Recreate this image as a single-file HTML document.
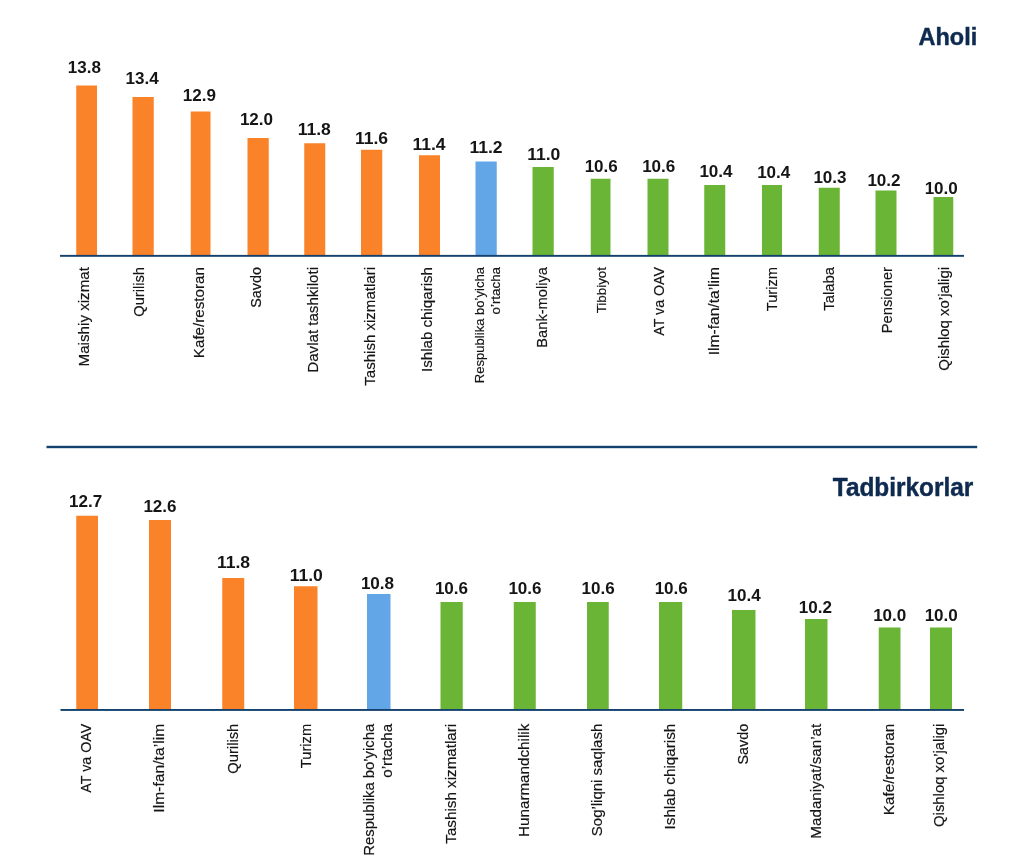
<!DOCTYPE html>
<html lang="uz">
<head>
<meta charset="utf-8">
<title>Aholi / Tadbirkorlar</title>
<style>
html,body{margin:0;padding:0;background:#fff;}
body{width:1024px;height:867px;overflow:hidden;}
svg{display:block;}
text{font-family:"Liberation Sans",sans-serif;}
.v{font-weight:700;font-size:16.5px;fill:#151515;}
.c{font-weight:400;font-size:15px;fill:#151515;stroke:#151515;stroke-width:0.18px;}
.t{font-weight:700;fill:#0e2a4f;stroke:#0e2a4f;stroke-width:0.45px;}
</style>
</head>
<body>
<svg width="1024" height="867" viewBox="0 0 1024 867">
<rect x="0" y="0" width="1024" height="867" fill="#ffffff"/>
<text class="t" style="font-size:24.5px" x="918.6" y="45.2" textLength="58.6" lengthAdjust="spacingAndGlyphs">Aholi</text>
<!-- top chart -->
<rect x="76.25" y="85.50" width="20.75" height="170.50" fill="#fa8229"/>
<rect x="132.50" y="97.00" width="21.25" height="159.00" fill="#fa8229"/>
<rect x="190.75" y="111.50" width="19.75" height="144.50" fill="#fa8229"/>
<rect x="247.50" y="138.00" width="21.25" height="118.00" fill="#fa8229"/>
<rect x="304.25" y="143.25" width="21.00" height="112.75" fill="#fa8229"/>
<rect x="361.00" y="149.75" width="21.25" height="106.25" fill="#fa8229"/>
<rect x="419.00" y="155.25" width="21.00" height="100.75" fill="#fa8229"/>
<rect x="475.50" y="161.50" width="21.25" height="94.50" fill="#63a6e8"/>
<rect x="532.50" y="167.00" width="21.25" height="89.00" fill="#6bb536"/>
<rect x="590.75" y="178.75" width="19.75" height="77.25" fill="#6bb536"/>
<rect x="647.50" y="178.75" width="21.00" height="77.25" fill="#6bb536"/>
<rect x="704.25" y="185.00" width="21.00" height="71.00" fill="#6bb536"/>
<rect x="762.00" y="185.00" width="20.00" height="71.00" fill="#6bb536"/>
<rect x="818.75" y="187.75" width="21.00" height="68.25" fill="#6bb536"/>
<rect x="875.50" y="190.50" width="21.00" height="65.50" fill="#6bb536"/>
<rect x="933.50" y="197.00" width="19.75" height="59.00" fill="#6bb536"/>
<text class="v" x="67.80" y="73.35" textLength="33.2" lengthAdjust="spacingAndGlyphs">13.8</text>
<text class="v" x="125.50" y="84.10" textLength="33.2" lengthAdjust="spacingAndGlyphs">13.4</text>
<text class="v" x="182.80" y="100.85" textLength="33.2" lengthAdjust="spacingAndGlyphs">12.9</text>
<text class="v" x="239.90" y="125.35" textLength="33.2" lengthAdjust="spacingAndGlyphs">12.0</text>
<text class="v" x="297.65" y="134.60" textLength="33.2" lengthAdjust="spacingAndGlyphs">11.8</text>
<text class="v" x="354.90" y="144.10" textLength="33.2" lengthAdjust="spacingAndGlyphs">11.6</text>
<text class="v" x="412.40" y="149.60" textLength="33.2" lengthAdjust="spacingAndGlyphs">11.4</text>
<text class="v" x="469.40" y="153.35" textLength="33.2" lengthAdjust="spacingAndGlyphs">11.2</text>
<text class="v" x="527.15" y="160.35" textLength="33.2" lengthAdjust="spacingAndGlyphs">11.0</text>
<text class="v" x="584.65" y="172.10" textLength="33.2" lengthAdjust="spacingAndGlyphs">10.6</text>
<text class="v" x="642.15" y="172.10" textLength="33.2" lengthAdjust="spacingAndGlyphs">10.6</text>
<text class="v" x="699.40" y="177.10" textLength="33.2" lengthAdjust="spacingAndGlyphs">10.4</text>
<text class="v" x="757.15" y="177.60" textLength="33.2" lengthAdjust="spacingAndGlyphs">10.4</text>
<text class="v" x="813.40" y="182.60" textLength="33.2" lengthAdjust="spacingAndGlyphs">10.3</text>
<text class="v" x="867.40" y="185.85" textLength="33.2" lengthAdjust="spacingAndGlyphs">10.2</text>
<text class="v" x="924.65" y="193.85" textLength="33.2" lengthAdjust="spacingAndGlyphs">10.0</text>
<text class="c" style="font-size:15px" transform="translate(89.40,366.45) rotate(-90)" textLength="99.45" lengthAdjust="spacingAndGlyphs">Maishiy xizmat</text>
<text class="c" style="font-size:15px" transform="translate(144.40,316.70) rotate(-90)" textLength="49.70" lengthAdjust="spacingAndGlyphs">Qurilish</text>
<text class="c" style="font-size:15px" transform="translate(203.90,358.20) rotate(-90)" textLength="91.20" lengthAdjust="spacingAndGlyphs">Kafe/restoran</text>
<text class="c" style="font-size:15px" transform="translate(261.15,307.70) rotate(-90)" textLength="40.70" lengthAdjust="spacingAndGlyphs">Savdo</text>
<text class="c" style="font-size:15px" transform="translate(317.65,372.70) rotate(-90)" textLength="105.70" lengthAdjust="spacingAndGlyphs">Davlat tashkiloti</text>
<text class="c" style="font-size:15px" transform="translate(375.15,385.70) rotate(-90)" textLength="118.70" lengthAdjust="spacingAndGlyphs">Tashish xizmatlari</text>
<text class="c" style="font-size:15px" transform="translate(432.40,371.95) rotate(-90)" textLength="104.95" lengthAdjust="spacingAndGlyphs">Ishlab chiqarish</text>
<text class="c" style="font-size:13px" transform="translate(484.40,383.20) rotate(-90)" textLength="116.20" lengthAdjust="spacingAndGlyphs">Respublika bo’yicha</text>
<text class="c" style="font-size:13px" transform="translate(500.40,314.45) rotate(-90)" textLength="47.45" lengthAdjust="spacingAndGlyphs">o’rtacha</text>
<text class="c" style="font-size:15px" transform="translate(547.40,347.70) rotate(-90)" textLength="80.70" lengthAdjust="spacingAndGlyphs">Bank-moliya</text>
<text class="c" style="font-size:13.2px" transform="translate(605.65,313.30) rotate(-90)" textLength="46.30" lengthAdjust="spacingAndGlyphs">Tibbiyot</text>
<text class="c" style="font-size:15px" transform="translate(663.90,335.70) rotate(-90)" textLength="68.70" lengthAdjust="spacingAndGlyphs">AT va OAV</text>
<text class="c" style="font-size:15px" transform="translate(719.40,355.20) rotate(-90)" textLength="88.20" lengthAdjust="spacingAndGlyphs">Ilm-fan/ta’lim</text>
<text class="c" style="font-size:15px" transform="translate(776.90,311.20) rotate(-90)" textLength="44.20" lengthAdjust="spacingAndGlyphs">Turizm</text>
<text class="c" style="font-size:15px" transform="translate(834.40,310.70) rotate(-90)" textLength="43.70" lengthAdjust="spacingAndGlyphs">Talaba</text>
<text class="c" style="font-size:15px" transform="translate(891.90,333.20) rotate(-90)" textLength="66.20" lengthAdjust="spacingAndGlyphs">Pensioner</text>
<text class="c" style="font-size:15px" transform="translate(948.65,370.70) rotate(-90)" textLength="103.70" lengthAdjust="spacingAndGlyphs">Qishloq xo’jaligi</text>
<rect x="60" y="254.9" width="904" height="1.9" fill="#12416e"/>
<!-- separator -->
<rect x="46.5" y="445.8" width="930.7" height="2.4" fill="#12416e"/>
<text class="t" style="font-size:25px" x="832.8" y="495.6" textLength="140.5" lengthAdjust="spacingAndGlyphs">Tadbirkorlar</text>
<!-- bottom chart -->
<rect x="76.25" y="515.75" width="21.75" height="194.25" fill="#fa8229"/>
<rect x="149.00" y="520.00" width="22.00" height="190.00" fill="#fa8229"/>
<rect x="222.25" y="578.00" width="22.00" height="132.00" fill="#fa8229"/>
<rect x="294.00" y="586.25" width="23.50" height="123.75" fill="#fa8229"/>
<rect x="367.00" y="594.00" width="23.50" height="116.00" fill="#63a6e8"/>
<rect x="440.50" y="602.00" width="22.25" height="108.00" fill="#6bb536"/>
<rect x="513.75" y="602.00" width="22.00" height="108.00" fill="#6bb536"/>
<rect x="587.00" y="602.00" width="21.75" height="108.00" fill="#6bb536"/>
<rect x="659.00" y="602.00" width="23.25" height="108.00" fill="#6bb536"/>
<rect x="732.00" y="610.00" width="23.50" height="100.00" fill="#6bb536"/>
<rect x="805.00" y="619.00" width="22.50" height="91.00" fill="#6bb536"/>
<rect x="878.75" y="627.50" width="21.75" height="82.50" fill="#6bb536"/>
<rect x="930.00" y="627.50" width="22.00" height="82.50" fill="#6bb536"/>
<text class="v" x="69.00" y="506.60" textLength="33.2" lengthAdjust="spacingAndGlyphs">12.7</text>
<text class="v" x="143.40" y="511.60" textLength="33.2" lengthAdjust="spacingAndGlyphs">12.6</text>
<text class="v" x="216.90" y="567.60" textLength="33.2" lengthAdjust="spacingAndGlyphs">11.8</text>
<text class="v" x="289.65" y="580.85" textLength="33.2" lengthAdjust="spacingAndGlyphs">11.0</text>
<text class="v" x="360.90" y="588.85" textLength="33.2" lengthAdjust="spacingAndGlyphs">10.8</text>
<text class="v" x="434.90" y="594.10" textLength="33.2" lengthAdjust="spacingAndGlyphs">10.6</text>
<text class="v" x="508.40" y="594.10" textLength="33.2" lengthAdjust="spacingAndGlyphs">10.6</text>
<text class="v" x="581.50" y="594.10" textLength="33.2" lengthAdjust="spacingAndGlyphs">10.6</text>
<text class="v" x="654.65" y="594.10" textLength="33.2" lengthAdjust="spacingAndGlyphs">10.6</text>
<text class="v" x="727.50" y="600.85" textLength="33.2" lengthAdjust="spacingAndGlyphs">10.4</text>
<text class="v" x="798.80" y="613.35" textLength="33.2" lengthAdjust="spacingAndGlyphs">10.2</text>
<text class="v" x="873.15" y="620.85" textLength="33.2" lengthAdjust="spacingAndGlyphs">10.0</text>
<text class="v" x="924.65" y="620.85" textLength="33.2" lengthAdjust="spacingAndGlyphs">10.0</text>
<text class="c" style="font-size:15px" transform="translate(91.40,792.70) rotate(-90)" textLength="68.95" lengthAdjust="spacingAndGlyphs">AT va OAV</text>
<text class="c" style="font-size:15px" transform="translate(163.90,812.70) rotate(-90)" textLength="88.95" lengthAdjust="spacingAndGlyphs">Ilm-fan/ta’lim</text>
<text class="c" style="font-size:15px" transform="translate(237.65,773.70) rotate(-90)" textLength="49.95" lengthAdjust="spacingAndGlyphs">Qurilish</text>
<text class="c" style="font-size:15px" transform="translate(310.65,768.20) rotate(-90)" textLength="44.45" lengthAdjust="spacingAndGlyphs">Turizm</text>
<text class="c" style="font-size:15px" transform="translate(374.40,855.70) rotate(-90)" textLength="131.95" lengthAdjust="spacingAndGlyphs">Respublika bo’yicha</text>
<text class="c" style="font-size:15px" transform="translate(392.40,777.70) rotate(-90)" textLength="53.95" lengthAdjust="spacingAndGlyphs">o’rtacha</text>
<text class="c" style="font-size:15px" transform="translate(455.65,843.70) rotate(-90)" textLength="119.95" lengthAdjust="spacingAndGlyphs">Tashish xizmatlari</text>
<text class="c" style="font-size:15px" transform="translate(529.40,836.95) rotate(-90)" textLength="113.20" lengthAdjust="spacingAndGlyphs">Hunarmandchilik</text>
<text class="c" style="font-size:15px" transform="translate(601.90,836.20) rotate(-90)" textLength="112.45" lengthAdjust="spacingAndGlyphs">Sog’liqni saqlash</text>
<text class="c" style="font-size:15px" transform="translate(674.90,829.45) rotate(-90)" textLength="105.70" lengthAdjust="spacingAndGlyphs">Ishlab chiqarish</text>
<text class="c" style="font-size:15px" transform="translate(748.15,764.45) rotate(-90)" textLength="40.70" lengthAdjust="spacingAndGlyphs">Savdo</text>
<text class="c" style="font-size:15px" transform="translate(820.65,838.70) rotate(-90)" textLength="114.95" lengthAdjust="spacingAndGlyphs">Madaniyat/san’at</text>
<text class="c" style="font-size:15px" transform="translate(893.90,815.20) rotate(-90)" textLength="91.45" lengthAdjust="spacingAndGlyphs">Kafe/restoran</text>
<text class="c" style="font-size:15px" transform="translate(944.40,826.95) rotate(-90)" textLength="103.20" lengthAdjust="spacingAndGlyphs">Qishloq xo’jaligi</text>
<rect x="60.5" y="709.0" width="903.5" height="1.9" fill="#12416e"/>
</svg>
</body>
</html>
